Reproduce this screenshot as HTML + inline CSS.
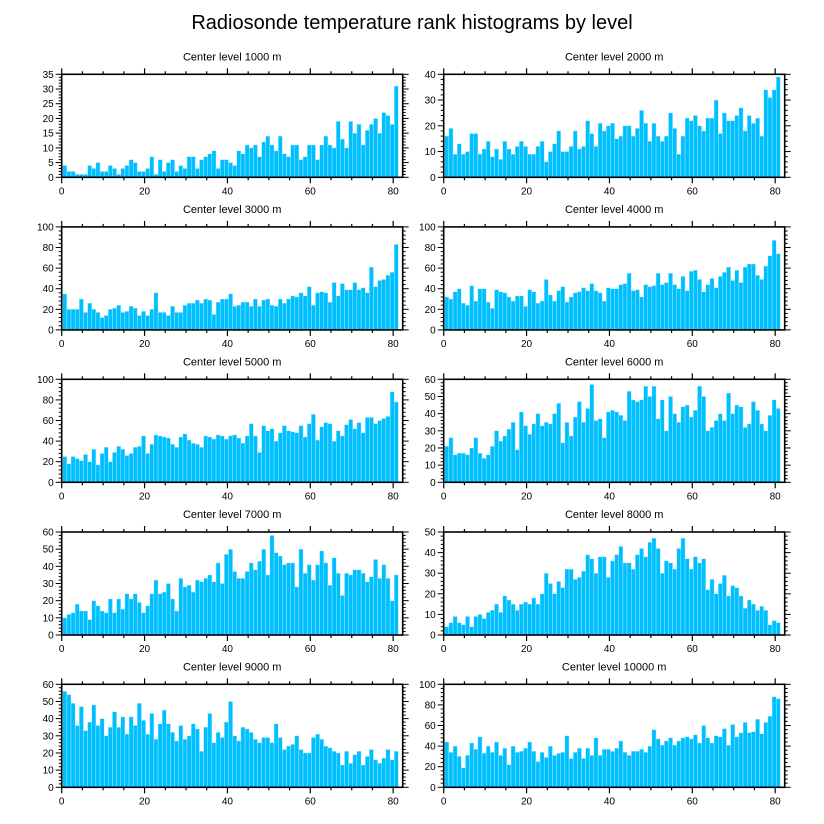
<!DOCTYPE html>
<html><head><meta charset="utf-8"><style>
html,body{margin:0;padding:0;background:#fff;}
svg{display:block;font-family:"Liberation Sans",sans-serif;}
</style></head><body>
<svg id="chart" width="824" height="824" viewBox="0 0 824 824">
<text x="412" y="29" text-anchor="middle" font-size="20">Radiosonde temperature rank histograms by level</text>
</svg>
<script>
const levels = ["1000","2000","3000","4000","5000","6000","7000","8000","9000","10000"];
const yMaxes = [35,40,100,100,100,60,60,50,60,100];
const yMajor = [5,10,20,20,20,10,10,10,10,20];
const xTicks = [0,20,40,60,80];
const h1000 = [4,2,2,1,1,1,4,3,5,2,2,4,3,1,3,4,6,5,2,2,3,7,1,6,2,5,6,2,4,3,7,7,3,6,7,8,9,3,6,6,5,4,9,8,11,10,11,7,12,14,11,9,14,8,7,11,11,6,7,11,11,6,11,14,11,10,19,13,10,19,15,18,11,16,18,20,15,22,21,18,31];
const h2000 = [16,19,9,13,9,10,17,17,9,11,14,8,11,7,14,11,9,12,14,12,9,9,12,14,6,10,13,18,10,10,12,18,11,12,22,17,12,21,18,20,21,15,16,20,20,16,19,26,21,14,21,16,14,16,25,19,9,16,23,22,24,20,18,23,23,30,17,25,22,22,24,27,18,24,21,23,16,34,31,34,39];
const h3000 = [35,20,20,20,30,17,26,20,17,12,14,20,21,24,17,18,23,21,14,18,14,20,36,17,17,14,23,17,17,24,26,26,29,26,30,29,15,27,30,30,35,23,24,27,27,23,30,23,29,30,24,23,30,26,30,33,32,36,33,42,24,36,37,36,27,46,33,45,39,39,46,39,41,36,61,42,48,49,53,56,83];
const h4000 = [32,30,37,40,26,24,43,28,40,40,27,21,39,37,36,32,28,33,33,23,39,37,26,28,49,34,28,38,42,27,32,36,37,41,38,45,38,36,28,41,40,40,44,45,55,38,39,32,44,42,43,55,44,46,55,44,40,52,38,57,58,49,37,44,50,41,52,56,61,48,58,46,61,64,64,53,49,62,72,87,74];
const h5000 = [25,18,25,23,21,27,20,32,17,28,34,20,29,35,32,26,28,34,35,45,28,37,46,45,44,43,37,34,44,47,41,38,37,34,45,44,42,46,45,42,45,46,43,38,45,57,45,29,55,50,52,40,48,55,50,49,48,55,44,57,66,41,54,58,57,40,50,45,56,61,52,58,48,63,63,57,60,62,64,88,78];
const h6000 = [21,26,16,17,17,16,20,26,17,14,16,21,30,24,27,31,35,19,41,33,28,34,40,33,35,34,40,46,23,35,27,38,47,35,43,57,36,37,26,41,42,41,39,36,53,48,47,48,56,50,56,37,48,30,50,40,35,44,45,38,42,56,50,30,32,36,40,36,52,40,45,44,32,34,47,42,34,30,39,48,43];
const h7000 = [10,12,13,18,14,14,9,20,17,14,13,21,13,21,15,24,21,24,19,13,17,24,32,24,25,30,21,14,33,28,29,25,32,31,33,35,31,42,30,47,50,37,33,33,37,42,38,43,50,35,58,48,46,41,42,42,28,50,36,41,32,41,49,42,29,45,36,23,36,35,38,38,36,31,34,44,33,41,33,20,35];
const h8000 = [4,6,9,6,5,9,4,9,10,8,11,12,15,11,19,17,15,12,15,16,15,18,15,20,30,25,20,26,23,32,32,27,28,31,39,37,30,38,38,28,36,39,43,35,35,32,39,42,38,45,47,42,30,36,35,32,42,47,37,32,38,35,37,22,27,20,25,29,19,24,23,19,13,17,15,12,14,12,5,7,6];
const h9000 = [56,54,49,36,47,33,38,48,36,40,30,35,44,35,41,31,41,36,49,39,31,43,28,37,45,37,32,27,36,28,30,37,34,21,35,43,26,32,29,38,50,30,27,35,34,32,28,26,29,29,26,37,29,22,24,25,30,22,20,20,29,31,28,24,23,21,20,13,21,14,19,21,13,18,22,16,14,17,22,16,21];
const h10000 = [44,34,40,30,19,31,43,37,49,33,40,34,44,31,38,22,40,34,35,38,44,35,25,34,29,40,31,33,34,50,28,34,38,28,38,31,48,31,37,37,35,38,45,34,31,35,35,37,34,40,56,47,41,45,48,41,45,48,49,47,51,43,60,48,43,50,49,57,41,61,49,53,63,53,54,66,52,63,69,88,86];
const series = [h1000,h2000,h3000,h4000,h5000,h6000,h7000,h8000,h9000,h10000];

const NS = "http://www.w3.org/2000/svg";
const svg = document.getElementById("chart");
function mk(tag, attrs, parent){ const e=document.createElementNS(NS,tag); for(const k in attrs) e.setAttribute(k,attrs[k]); parent.appendChild(e); return e; }
const PW = 341, PH = 103, XMAX = 82.3;
const lefts = [61.7, 443.7];
const tops = [74.3, 226.9, 379.3, 532, 684.3];

series.forEach((vals, p) => {
  const L = lefts[p % 2], T = tops[Math.floor(p / 2)], B = T + PH;
  const ymax = yMaxes[p];
  const xs = v => L + v / XMAX * PW;
  const ys = v => B - v / ymax * PH;
  const g = mk("g", {}, svg);
  
  
  const t = mk("text", {x: L + PW / 2, y: T - 14, "text-anchor": "middle", "font-size": "11"}, g);
  t.textContent = "Center level " + levels[p] + " m";
  
  
  vals.forEach((v, i) => {
    const r = mk("rect", {x: xs(i + 0.25), y: ys(v), width: xs(1) - L, height: B - ys(v), fill: "#00BFFF", stroke: "#bfefff", "stroke-width": "0.4"}, g);
    
    
  });
  // frame
  const f = mk("rect", {x: L, y: T, width: PW, height: PH, fill: "none", stroke: "#000", "stroke-width": "1.6"}, g);
  
  
  // x ticks
  for (let v = 0; v <= 80; v += 5) {
    const maj = v % 20 === 0, len = maj ? 6 : 3, x = xs(v);
    mk("line", {x1: x, x2: x, y1: B, y2: B + len, stroke: "#000", "stroke-width": "1.2"}, g);
    mk("line", {x1: x, x2: x, y1: T, y2: T - len, stroke: "#000", "stroke-width": "1.2"}, g);
  }
  xTicks.forEach(v => {
    const tx = mk("text", {x: xs(v), y: B + 17, "text-anchor": "middle", "font-size": "10"}, g);
    tx.textContent = v;
    
    
  });
  // y ticks
  const mj = yMajor[p], mn = mj / 5;
  for (let k = 0; k * mn <= ymax + 1e-9; k++) {
    const v = k * mn, maj = (k % 5 === 0), len = maj ? 6 : 3, y = ys(v);
    mk("line", {x1: L, x2: L - len, y1: y, y2: y, stroke: "#000", "stroke-width": "1"}, g);
    mk("line", {x1: L + PW, x2: L + PW + len, y1: y, y2: y, stroke: "#000", "stroke-width": "1"}, g);
    if (maj) {
      const ty = mk("text", {x: L - 8, y: y + 3.5, "text-anchor": "end", "font-size": "10"}, g);
      ty.textContent = Math.round(v);
      
      
    }
  }
});
</script>
</body></html>
